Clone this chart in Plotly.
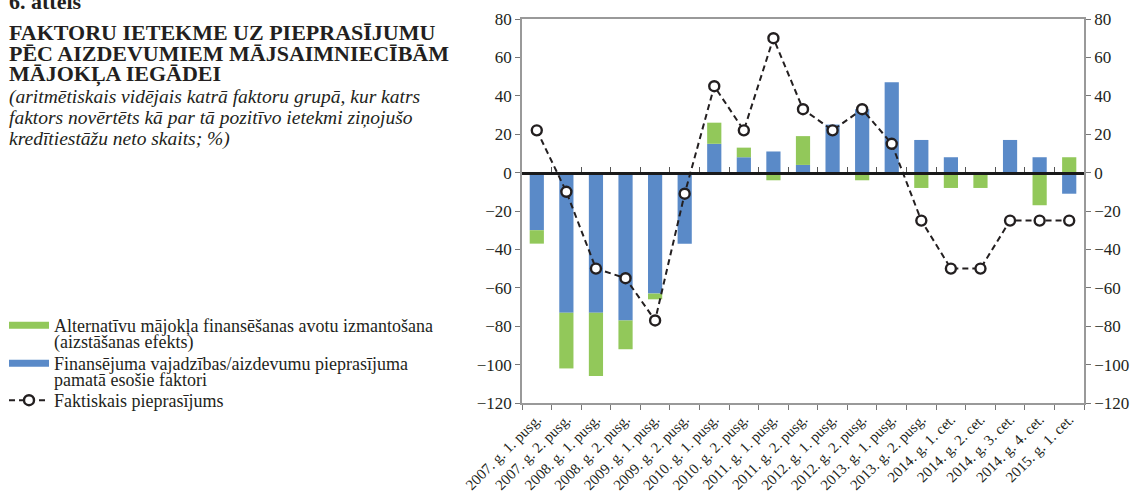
import plotly.graph_objects as go

categories = ["2007. g. 1. pusg.", "2007. g. 2. pusg.", "2008. g. 1. pusg.", "2008. g. 2. pusg.",
              "2009. g. 1. pusg.", "2009. g. 2. pusg.", "2010. g. 1. pusg.", "2010. g. 2. pusg.",
              "2011. g. 1. pusg.", "2011. g. 2. pusg.", "2012. g. 1. pusg.", "2012. g. 2. pusg.",
              "2013. g. 1. pusg.", "2013. g. 2. pusg.", "2014. g. 1. cet.", "2014. g. 2. cet.",
              "2014. g. 3. cet.", "2014. g. 4. cet.", "2015. g. 1. cet."]
blue_values = [-30, -73, -73, -77, -63, -37, 15, 8, 11, 4, 25, 33, 47, 17, 8, 0, 17, 8, -11]
green_values = [-7, -29, -33, -15, -3, 0, 11, 5, -4, 15, 0, -4, 0, -8, -8, -8, 0, -17, 8]
actual_demand = [22, -10, -50, -55, -77, -11, 45, 22, 70, 33, 22, 33, 15, -25, -50, -50, -25, -25, -25]
y_ticks = [-120, -100, -80, -60, -40, -20, 0, 20, 40, 60, 80]

name_green = ["Alternatīvu mājokļa finansēšanas avotu izmantošana", "(aizstāšanas efekts)"]
name_blue = ["Finansējuma vajadzības/aizdevumu pieprasījuma", "pamatā esošie faktori"]
name_line = "Faktiskais pieprasījums"

title_lines = ["FAKTORU IETEKME UZ PIEPRASĪJUMU", "PĒC AIZDEVUMIEM MĀJSAIMNIECĪBĀM", "MĀJOKĻA IEGĀDEI"]
subtitle_lines = ["(aritmētiskais vidējais katrā faktoru grupā, kur katrs",
                  "faktors novērtēts kā par tā pozitīvo ietekmi ziņojušo",
                  "kredītiestāžu neto skaits; %)"]
figure_number = "6. attēls"

GREEN = "#92C85A"
BLUE = "#5A8AC8"
FONT = "'Liberation Serif', 'Times New Roman', Times, serif"
TXT = "#231F20"
W, H = 1138, 498
L, R, T, B = 522, 54, 19, 95

fig = go.Figure()
fig.add_trace(go.Bar(x=categories, y=blue_values, marker=dict(color=BLUE, line=dict(width=0)),
                     showlegend=False))
fig.add_trace(go.Bar(x=categories, y=green_values, marker=dict(color=GREEN, line=dict(width=0)),
                     showlegend=False))
# legend proxies (no data)
fig.add_trace(go.Scatter(x=[None], y=[None], mode="lines", line=dict(color=GREEN, width=7),
                         name=name_green[0], legend="legend"))
fig.add_trace(go.Scatter(x=[None], y=[None], mode="lines", line=dict(color=BLUE, width=7),
                         name=name_blue[0], legend="legend2"))
fig.add_trace(go.Scatter(x=categories, y=actual_demand, mode="lines+markers", name=name_line,
                         line=dict(color="#231F20", width=2, dash="6px,4px"),
                         marker=dict(symbol="circle", size=10, color="white", line=dict(color="#231F20", width=2.4)),
                         legend="legend3"))
# helper trace for the zero-crossing category axis and right axis
fig.add_trace(go.Scatter(x=categories, y=actual_demand, xaxis="x2", yaxis="y2", mode="markers",
                         marker=dict(opacity=0), showlegend=False, hoverinfo="skip"))

tickfont_y = dict(size=17, family=FONT, color=TXT)
ytext = [str(v).replace("-", "\u2212") for v in y_ticks]
LEG_SIZE = 18

def legend_at(text_center_px):
    top_px = text_center_px - 18
    return dict(xref="container", yref="container", x=4 / W, y=1 - top_px / H, xanchor="left", yanchor="top",
                font=dict(size=LEG_SIZE, family=FONT, color=TXT), valign="top", tracegroupgap=0, itemwidth=40,
                bgcolor="rgba(0,0,0,0)")

fig.update_layout(
    width=W, height=H,
    margin=dict(l=L, r=R, t=T, b=B, autoexpand=False),
    paper_bgcolor="white", plot_bgcolor="white",
    barmode="relative", bargap=0.52,
    font=dict(family=FONT, color=TXT, size=17),
    xaxis=dict(type="category", tickangle=-45, tickson="boundaries", ticks="outside", ticklen=5,
               tickcolor="#777", showline=True, linecolor="#999", linewidth=1.5, mirror=True, automargin=False,
               showgrid=False, tickfont=dict(size=15, family=FONT, color=TXT), range=[-0.5, 18.5]),
    xaxis2=dict(type="category", matches="x", overlaying="x", anchor="free", position=0.6, side="bottom",
                showline=True, linecolor="#1a1a1a", linewidth=2.5, ticks="inside", ticklen=5, automargin=False,
                tickson="boundaries", tickcolor="#555", showticklabels=False, showgrid=False),
    yaxis=dict(range=[-120, 80], tickvals=y_ticks, ticktext=ytext, automargin=False,
               ticks="outside", ticklen=5, tickcolor="#777", showline=True, linecolor="#999", linewidth=1.5,
               showgrid=False, zeroline=False, tickfont=tickfont_y),
    yaxis2=dict(range=[-120, 80], overlaying="y", side="right", anchor="x", tickvals=y_ticks, ticktext=ytext,
                ticks="outside", ticklen=5, tickcolor="#777", showline=True, linecolor="#999", linewidth=1.5,
                showgrid=False, zeroline=False, tickfont=tickfont_y, automargin=False),
    legend=legend_at(325),
    legend2=legend_at(363),
    legend3=legend_at(400),
    showlegend=True,
)

def py(p):
    return (H - B - p) / (H - T - B)

def px(p):
    return (p - L) / (W - L - R)

def add_line(text, center, size, x=7, bold=False, italic=False):
    t = text
    if bold:
        t = "<b>" + t + "</b>"
    if italic:
        t = "<i>" + t + "</i>"
    fig.add_annotation(text=t, xref="paper", yref="paper", x=px(x), y=py(center),
                       xanchor="left", yanchor="middle", align="left", showarrow=False,
                       font=dict(size=size, family=FONT, color=TXT))

add_line(figure_number, 9 - 0.32 * 22, 22, bold=True)
for i, line in enumerate(title_lines):
    add_line(line, 40 + 20.5 * i - 0.32 * 22, 22, bold=True)
for i, line in enumerate(subtitle_lines):
    add_line(line, 103 + 21 * i - 0.32 * 19.5, 19.5, italic=True)
# continuation lines of the two-line legend entries
add_line(name_green[1], 342, LEG_SIZE, x=52)
add_line(name_blue[1], 380, LEG_SIZE, x=52)

fig.write_html("out.html", post_script="document.body.style.margin='0px';",
               config={"displayModeBar": False})
